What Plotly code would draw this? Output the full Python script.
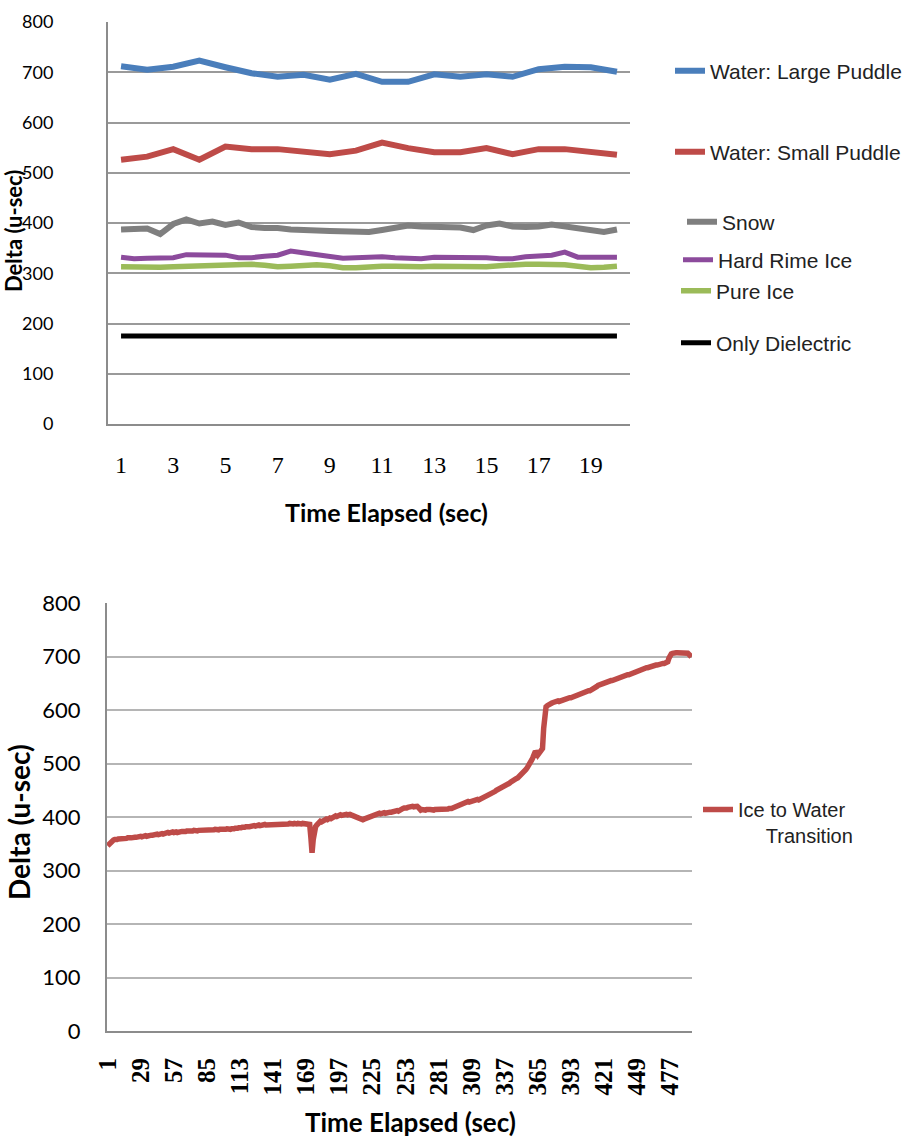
import plotly.graph_objects as go

# ---------------- data: top chart ----------------
time_top = [1, 2, 3, 4, 5, 6, 7, 8, 9, 10, 11, 12, 13, 14, 15, 16, 17, 18, 19, 20]
time_top_fine = [1, 1.5, 2, 2.5, 3, 3.5, 4, 4.5, 5, 5.5, 6, 6.5, 7, 7.5, 8, 8.5, 9, 9.5, 10, 10.5,
                 11, 11.5, 12, 12.5, 13, 13.5, 14, 14.5, 15, 15.5, 16, 16.5, 17, 17.5, 18, 18.5, 19, 19.5, 20]
large_puddle = [712, 705, 711, 723, 710, 698, 691, 695, 685, 697, 681, 681, 696, 691, 696, 691, 706, 711, 710, 701]
small_puddle = [526, 532, 547, 526, 552, 547, 547, 541, 537, 544, 560, 549, 541, 541, 549, 537, 547, 547, 542, 536]
snow = [387, 388, 389, 378, 398, 407, 399, 403, 396, 401, 392, 390, 390, 387, 385, 385, 384, 384, 382, 382,
        386, 392, 395, 393, 392, 392, 391, 386, 395, 399, 393, 392, 393, 397, 393, 391, 388, 382, 387]
hard_rime = [332, 329, 330, 331, 331, 337, 337, 337, 336, 331, 331, 334, 336, 344, 340, 337, 334, 330, 331, 332,
             333, 331, 330, 329, 332, 332, 333, 332, 331, 329, 329, 333, 335, 336, 342, 332, 332, 332, 332]
pure_ice = [313, 312, 312, 312, 313, 314, 315, 316, 317, 318, 318, 316, 313, 314, 316, 317, 315, 311, 311, 313,
            314, 314, 313, 313, 314, 314, 313, 312, 313, 315, 317, 318, 318, 318, 317, 314, 311, 312, 314]
only_dielectric = [175, 175, 175, 175, 175, 175, 175, 175, 175, 175, 175, 175, 175, 175, 175, 175, 175, 175, 175, 175]
top_xticks = [1, 3, 5, 7, 9, 11, 13, 15, 17, 19]
y_ticks = [0, 100, 200, 300, 400, 500, 600, 700, 800]

# ---------------- data: bottom chart ----------------
ice_to_water = [
    346, 349, 352, 354, 356, 357, 358, 357, 358, 359,
    359, 358, 359, 360, 359, 360, 360, 361, 360, 361,
    361, 362, 361, 362, 362, 363, 362, 363, 364, 363,
    364, 364, 365, 364, 365, 366, 365, 366, 366, 367,
    366, 367, 368, 367, 368, 368, 369, 368, 369, 370,
    370, 371, 370, 371, 371, 372, 371, 372, 372, 371,
    372, 373, 372, 373, 373, 372, 373, 374, 373, 374,
    374, 373, 374, 375, 374, 375, 374, 375, 375, 374,
    375, 376, 375, 374, 375, 376, 375, 376, 376, 375,
    376, 377, 376, 375, 376, 377, 376, 377, 377, 376,
    377, 378, 377, 376, 377, 378, 377, 378, 379, 378,
    379, 380, 379, 380, 381, 380, 381, 382, 381, 382,
    382, 383, 382, 383, 384, 383, 384, 384, 385, 384,
    385, 384, 385, 386, 385, 385, 386, 385, 386, 386,
    385, 386, 387, 386, 386, 387, 386, 387, 387, 386,
    387, 387, 386, 387, 388, 387, 386, 387, 388, 387,
    387, 388, 387, 388, 387, 388, 388, 387, 388, 387,
    388, 386, 362, 333, 358, 376, 382, 385, 388, 390,
    392, 391, 393, 394, 395, 396, 395, 397, 398, 397,
    399, 401, 400, 402, 401, 403, 402, 404, 403, 404,
    403, 404, 405, 404, 405, 405, 404, 403, 402, 401,
    400, 399, 398, 397, 396, 396, 395, 396, 397, 398,
    399, 400, 401, 402, 402, 403, 404, 405, 405, 406,
    407, 406, 407, 408, 408, 407, 408, 409, 408, 409,
    409, 410, 409, 410, 411, 412, 411, 413, 414, 415,
    416, 417, 416, 417, 418, 419, 418, 419, 420, 419,
    420, 421, 420, 418, 414, 413, 414, 413, 414, 413,
    414, 413, 414, 414, 413, 414, 413, 414, 414, 413,
    414, 414, 413, 414, 415, 414, 415, 414, 415, 416,
    415, 416, 417, 418, 419, 420, 421, 421, 422, 424,
    425, 426, 427, 428, 428, 429, 428, 429, 430, 431,
    430, 431, 432, 433, 432, 433, 434, 435, 436, 437,
    438, 439, 440, 441, 442, 444, 445, 447, 448, 450,
    451, 452, 453, 454, 455, 456, 457, 458, 459, 461,
    463, 465, 467, 469, 470, 471, 472, 473, 475, 476,
    478, 480, 483, 486, 489, 492, 495, 499, 503, 507,
    512, 518, 523, 520, 516, 519, 523, 526, 528, 566,
    600, 606, 608, 610, 611, 612, 613, 614, 615, 615,
    616, 617, 616, 617, 618, 619, 619, 620, 621, 621,
    622, 623, 623, 624, 625, 626, 627, 628, 629, 630,
    631, 632, 632, 633, 634, 634, 635, 636, 636, 637,
    638, 639, 640, 642, 644, 646, 647, 648, 648, 649,
    650, 651, 651, 652, 653, 654, 655, 655, 656, 657,
    658, 658, 659, 660, 660, 661, 662, 663, 664, 665,
    666, 666, 667, 668, 669, 670, 671, 672, 672, 673,
    674, 675, 676, 676, 677, 678, 679, 679, 680, 681,
    681, 682, 682, 683, 684, 684, 685, 685, 686, 686,
    687, 687, 688, 688, 690, 697, 703, 705, 706, 707,
    707, 707, 707, 707, 707, 707, 707, 707, 707, 707,
    707, 706, 704, 701, 699,
]
bottom_xticks = [1, 29, 57, 85, 113, 141, 169, 197, 225, 253, 281, 309, 337, 365, 393, 421, 449, 477]
time_bottom = list(range(1, len(ice_to_water) + 1))

# ---------------- figure ----------------
W, H = 912, 1138
HUM = "Lato, Open Sans, sans-serif"
SANS = "Liberation Sans, Arial, sans-serif"
SERIF = "Liberation Serif, Times New Roman, serif"


def px(x):
    return x / W


def py(y):
    return 1 - y / H


fig = go.Figure()

top_series = [
    ("Water: Large Puddle", time_top, large_puddle, "#4a7ebb", 6, "legend"),
    ("Water: Small Puddle", time_top, small_puddle, "#be4b48", 6, "legend2"),
    ("Snow", time_top_fine, snow, "#7f7f7f", 6, "legend3"),
    ("Hard Rime Ice", time_top_fine, hard_rime, "#8c4b9c", 5, "legend4"),
    ("Pure Ice", time_top_fine, pure_ice, "#9bbb59", 5.5, "legend5"),
    ("Only Dielectric", time_top, only_dielectric, "#000000", 5, "legend6"),
]
for name, xs, ys, col, w, lg in top_series:
    fig.add_trace(go.Scatter(x=xs, y=ys, name=name, mode="lines",
                             line=dict(color=col, width=w),
                             xaxis="x", yaxis="y", legend=lg))

fig.add_trace(go.Scatter(x=time_bottom, y=ice_to_water,
                         name="Ice to Water<br>\u00a0\u00a0\u00a0\u00a0\u00a0Transition",
                         mode="lines", line=dict(color="#be4b48", width=5.5),
                         xaxis="x2", yaxis="y2", legend="legend7"))

# legends (positions in pixels)
leg_pos = {
    "legend": (670, 71),
    "legend2": (670, 152),
    "legend3": (682, 222),
    "legend4": (678, 260),
    "legend5": (676, 291),
    "legend6": (676, 343),
}
layout_legends = {}
for key, (lx, ly) in leg_pos.items():
    layout_legends[key] = dict(x=px(lx), y=py(ly), xanchor="left", yanchor="middle",
                               bgcolor="rgba(0,0,0,0)", font=dict(family=SANS, size=21, color="#222"),
                               tracegroupgap=0)
layout_legends["legend7"] = dict(x=px(698), y=py(790), xanchor="left", yanchor="top",
                                 valign="top", bgcolor="rgba(0,0,0,0)",
                                 font=dict(family=SANS, size=20, color="#222"))


def bold(size):
    return dict(family=HUM, size=size, color="#000", weight="bold")


fig.update_layout(
    width=W, height=H,
    margin=dict(l=0, r=0, t=0, b=0),
    paper_bgcolor="white", plot_bgcolor="white",
    showlegend=True,
    **layout_legends,
    xaxis=dict(domain=[px(108), px(630)], anchor="y", range=[0.5, 20.5], automargin=False,
               tickmode="array", tickvals=top_xticks, ticktext=[str(v) for v in top_xticks],
               tickfont=dict(family=SERIF, size=24, color="#000"),
               showgrid=False, zeroline=False, showline=True, linecolor="#8c8c8c", linewidth=2,
               ticks="", ticklabelstandoff=18),
    yaxis=dict(domain=[py(424), py(22)], anchor="x", range=[0, 800], automargin=False,
               tickmode="array", tickvals=y_ticks,
               tickfont=dict(family=HUM, size=18, color="#000"),
               showgrid=True, gridcolor="#9a9a9a", gridwidth=1.5, zeroline=False,
               showline=True, linecolor="#8c8c8c", linewidth=2, ticks="",
               ticklabelstandoff=49),
    xaxis2=dict(domain=[px(107), px(692)], anchor="y2", range=[0.5, len(ice_to_water) + 0.5],
                automargin=False,
                tickmode="array", tickvals=bottom_xticks, ticktext=[str(v) for v in bottom_xticks],
                tickangle=-90,
                tickfont=dict(family=SERIF, size=25, color="#000", weight="bold"),
                showgrid=False, zeroline=False, showline=True, linecolor="#8c8c8c", linewidth=2,
                ticks="", ticklabelstandoff=15),
    yaxis2=dict(domain=[py(1031), py(603)], anchor="x2", range=[0, 800], automargin=False,
                tickmode="array", tickvals=y_ticks,
                tickfont=dict(family=HUM, size=22, color="#000"),
                showgrid=True, gridcolor="#b5b5b5", gridwidth=2, zeroline=False,
                showline=True, linecolor="#8c8c8c", linewidth=2, ticks="",
                ticklabelstandoff=20),
    annotations=[
        dict(text="Delta (u-sec)", textangle=-90, xref="paper", yref="paper",
             x=px(13), y=py(231), xanchor="center", yanchor="middle", showarrow=False,
             font=bold(22)),
        dict(text="Time Elapsed (sec)", xref="paper", yref="paper",
             x=px(386), y=py(512), xanchor="center", yanchor="middle", showarrow=False,
             font=bold(25)),
        dict(text="Delta (u-sec)", textangle=-90, xref="paper", yref="paper",
             x=px(19), y=py(822), xanchor="center", yanchor="middle", showarrow=False,
             font=bold(28)),
        dict(text="Time Elapsed (sec)", xref="paper", yref="paper",
             x=px(410), y=py(1122), xanchor="center", yanchor="middle", showarrow=False,
             font=bold(26)),
    ],
)

fig.write_html("out.html", config={"displayModeBar": False},
               post_script="document.body.style.margin='0';document.body.style.padding='0';")
